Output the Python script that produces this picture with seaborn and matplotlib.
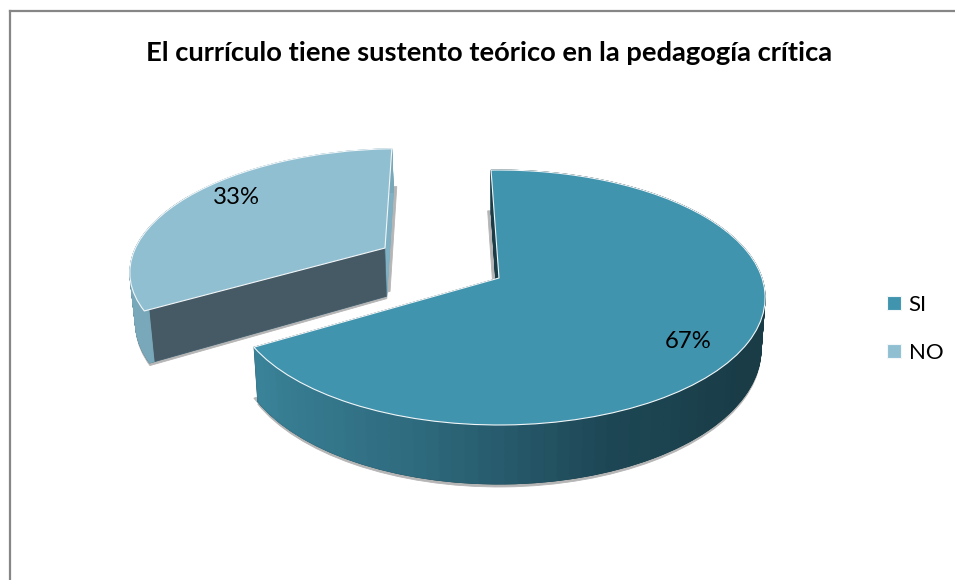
import numpy as np
import matplotlib
matplotlib.use("Agg")
import matplotlib.pyplot as plt
from matplotlib.transforms import Transform
import seaborn as sns

categories = ["SI", "NO"]
values = [67, 33]
pct_labels = ["67%", "33%"]
title = "El currículo tiene sustento teórico en la pedagogía crítica"

sns.set_theme(style="white")
plt.rcParams["font.family"] = ["Lato", "DejaVu Sans"]

# styling of the tilted pie
TOP = ["#4094AE", "#90BFD2"]
SI_RIM = ["#193c47", "#193c47", "#193c47", "#193c47", "#1d4654", "#2f6c80", "#3a8298"]
NO_RIM = "#79a8ba"
NO_CUT = "#465a65"
NO_SLIVER = "#7fb0c3"
SHADOW = "#b5b5b5"
EDGE = "#f2f7f9"
NO_CENTER = (-0.45, 0.25)
NO_RADIUS = 0.985
DEPTH = 50
START = 92.0
RIM_WIDTH = 0.018


class Tilt(Transform):
    """Perspective view of the unit pie, in pixel coordinates."""
    input_dims = 2
    output_dims = 2
    is_separable = False

    def __init__(self, drop=0.0, shift=0.0, cx=499.0, cy=278.0, a=263.0, b=124.5, k=0.153, q=0.0003):
        super().__init__()
        self.drop, self.shift, self.cx, self.cy, self.a, self.b, self.k, self.q = drop, shift, cx, cy, a, b, k, q

    def transform_non_affine(self, xy):
        xy = np.asarray(xy, float)
        w = 1 + self.k * xy[:, 1]
        squeeze = 1 - self.q * self.drop
        return np.column_stack([self.cx + self.shift + squeeze * self.a * xy[:, 0] / w,
                                self.cy + (self.drop - self.b * xy[:, 1]) / w])

    def inverted(self):
        raise NotImplementedError


fig, ax = plt.subplots(figsize=(9.55, 5.8), dpi=100)
fig.subplots_adjust(0, 0, 1, 1)


def tilted(wedges, drop, z, shift=0.0):
    for w in wedges:
        w.set_transform(Tilt(drop, shift) + ax.transData)
        w.set_zorder(z)
        w.set_clip_on(False)


def pie(vals, colors, center=(0, 0), radius=1.0, width=None, edge=None, lw=0.6):
    props = {"linewidth": lw}
    if width:
        props["width"] = width
    wedges, _ = ax.pie(vals, colors=colors, startangle=START, counterclock=False,
                       center=center, radius=radius, wedgeprops=props, frame=True)
    for w in wedges:
        w.set_edgecolor(edge if edge else w.get_facecolor())
    return wedges


si, no = values
n_seg = 96
si_parts = [si / n_seg] * n_seg + [no]
si_cols = sns.blend_palette(SI_RIM, n_seg) + ["none"]
z = 1.0

# NO slice: shadows, cut faces, rim
tilted(pie([si, no], ["none", SHADOW], NO_CENTER, NO_RADIUS), DEPTH + 2.5, z); z += .001
tilted(pie([si, no], ["none", SHADOW], NO_CENTER, NO_RADIUS), DEPTH - 5, z, shift=3.5); z += .001
for d in range(0, DEPTH + 1):
    tilted(pie([si, no], ["none", NO_SLIVER], NO_CENTER, NO_RADIUS), d, z); z += .001
for d in range(0, DEPTH + 1):
    tilted(pie([si, no / 2, no / 2], ["none", NO_CUT, "none"], NO_CENTER, NO_RADIUS), d, z); z += .001
for d in range(0, DEPTH + 1):
    tilted(pie([si, no], ["none", NO_RIM], NO_CENTER, NO_RADIUS, width=RIM_WIDTH), d, z); z += .001
top_no = pie([si, no], ["none", TOP[1]], NO_CENTER, NO_RADIUS, edge=EDGE, lw=0.8)
top_no[0].set_visible(False)
tilted(top_no, 0, z); z += .001

# SI slice: shadows, dark cut face, gradient rim
tilted(pie([si, no], [SHADOW, "none"]), DEPTH + 2.5, z); z += .001
tilted(pie([si, no], [SHADOW, "none"]), DEPTH - 3, z, shift=-3.5); z += .001
for d in range(0, DEPTH + 1):
    tilted(pie([si, no], [SI_RIM[0], "none"]), d, z); z += .001
for d in range(0, DEPTH + 1):
    tilted(pie(si_parts, si_cols, width=RIM_WIDTH), d, z); z += .001
top_si = pie([si, no], [TOP[0], "none"], edge=EDGE, lw=0.8)
top_si[1].set_visible(False)
tilted(top_si, 0, z); z += .001

ax.set_aspect("auto")
ax.set_xlim(0, 955)
ax.set_ylim(580, 0)
ax.set_xticks([])
ax.set_yticks([])
for s in ["right", "bottom"]:
    ax.spines[s].set_visible(False)
for s in ["left", "top"]:
    ax.spines[s].set_color("#868686")
    ax.spines[s].set_linewidth(1.6)
    ax.spines[s].set_position(("data", 9.5 if s == "left" else 10.5))
ax.spines["left"].set_bounds(10.5, 580)
ax.spines["top"].set_bounds(9.5, 955)

ax.text(688, 342, pct_labels[0], ha="center", va="center", fontsize=17.2, color="black", zorder=9)
ax.text(236, 198, pct_labels[1], ha="center", va="center", fontsize=17.2, color="black", zorder=9)
ax.text(489, 53, title, ha="center", va="center", fontsize=19.7, fontweight="bold", color="black", zorder=9)

leg = ax.legend([top_si[0], top_no[1]], categories, loc="center left",
                bbox_to_anchor=(887, 329), bbox_transform=ax.transData,
                frameon=False, fontsize=16, handlelength=0.62, handleheight=0.62,
                handletextpad=0.36, labelspacing=1.25, borderpad=0, borderaxespad=0)
for t in leg.get_texts():
    t.set_color("black")

fig.savefig("out.png", dpi=100, facecolor="white")
